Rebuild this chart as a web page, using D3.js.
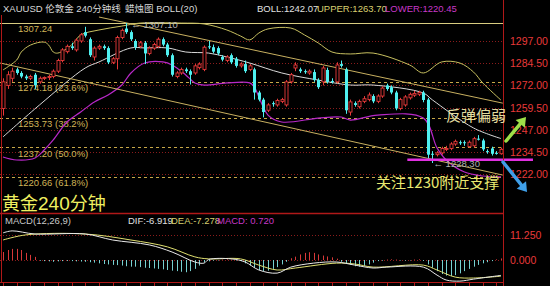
<!DOCTYPE html>
<html>
<head>
<meta charset="utf-8">
<script src="https://cdn.jsdelivr.net/npm/d3@7"></script>
<style>
  html, body { margin: 0; padding: 0; background: #000; }
  svg { display: block; }
  text { font-family: "Liberation Sans", "Noto Sans CJK SC", sans-serif; }
  .cjk { font-family: "Noto Sans CJK SC", "Liberation Sans", sans-serif; }
</style>
</head>
<body>
<svg id="chart" width="550" height="286"></svg>
<script>
// ── Data (XAUUSD 240 min candles) ───────────────────────────────────────────
const opens = [
  1259,1272,1276,1281,1279,1277,1276,1278,1274,1276, 1276.5,1277,1280,1286,1291,1294,1292,1297,1302,1298,
  1288,1293,1294,1293,1285,1287,1299,1304,1302,1297, 1294,1296,1290,1293,1294,1298,1295,1289,1277,1279,
  1281,1280,1279,1282,1281,1294,1293.5,1293,1288,1286, 1289,1287,1283,1284,1281,1281,1268,1264,1258,1262,
  1261,1263,1261,1274,1281.8,1281,1280,1279,1279.5,1275, 1274,1280.7,1274.5,1274,1284,1281,1257,1262,1260,1263,
  1264,1266,1263,1266,1272,1271,1268,1259,1261,1265, 1266.5,1267,1268,1264,1233.5,1233,1234,1236,1236.5,1239,
  1240,1240,1237.5,1238,1242,1241,1235,1236.5,1234,1233.5
];
const highs = [
  1276,1280,1282,1282,1280,1278,1278,1279,1277,1277, 1278,1281,1287,1293,1295,1296,1298.5,1301.5,1305,1299,
  1294,1295,1295,1294,1288,1300,1304,1307.1,1303,1298, 1297,1297,1294,1296,1299,1299,1296,1290,1280,1282,
  1282,1281,1284,1285,1294.5,1297,1295,1294,1289,1289, 1290,1288,1285,1286,1284,1282,1269,1265,1262,1263,
  1264.5,1265,1275,1279,1285,1282,1281,1281,1281,1276, 1283,1282,1276,1285,1286,1282,1264,1263,1264,1266,
  1268,1267,1267,1271.5,1273,1272,1269,1265,1266.5,1268, 1269,1269,1269,1265,1235,1235,1237.5,1238,1240,1241.5,
  1241,1241,1241,1243,1244,1242,1236,1237.5,1235,1237
];
const lows = [
  1255,1270,1274,1278,1276,1275,1275,1270,1273,1275, 1275,1276,1279,1285,1290,1292,1291,1296,1299,1288,
  1286,1292,1292,1284,1284,1281,1298,1301,1297,1292, 1293,1284,1289,1292,1293,1294,1288,1277,1276,1278,
  1279,1272.5,1278,1281,1280,1292.5,1290,1289,1285.5,1285, 1284,1282,1282,1279,1280,1264,1263,1254,1257,1260,
  1260,1262,1260,1273,1280,1279,1278.5,1278,1274,1270, 1272,1273,1273,1273,1282,1256,1255,1260,1259,1262,
  1263,1262,1262,1265,1269,1267,1258,1258,1260,1264, 1265.5,1266,1262.5,1231,1228.3,1232,1233,1235,1235.5,1238,
  1238.5,1238,1237,1237,1241,1235,1233.5,1232.5,1233,1233
];
const closes = [
  1274,1278,1280,1279,1277,1276,1277,1272,1276,1276.5, 1277,1280,1286,1292,1294,1293,1297.5,1300.5,1300,1289,
  1293,1294,1293,1285,1287,1299,1303,1302,1298,1293.5, 1296,1290,1293,1295,1298,1295,1289,1278,1279,1281,
  1280,1278,1283,1284,1293.5,1293.5,1291,1290,1286.5,1288, 1285,1283,1284,1280,1283,1268,1264,1257,1261,1261.5,
  1263.5,1264,1274,1278,1283.5,1280,1279.5,1280,1275,1271, 1281.8,1274,1274,1283.5,1283,1258,1262.7,1261,1263,1264.5,
  1266.6,1263,1266,1270.5,1270,1268,1259,1264,1265.5,1267, 1267.5,1268,1263.8,1233,1233,1234,1236.5,1236.5,1239,1240.5,
  1239.5,1239.5,1240,1242,1241.5,1236,1234.5,1233.5,1233.5,1236
];

// Bollinger(20) read at candle index: [index, price]
const upperBand = [
  [0,1280.7],[3,1286.3],[4,1290.8],[6,1294.7],[9,1296.4],[10,1294.7],[11,1290.8],[12,1290.2],
  [15,1294.7],[17,1300.4],[21,1303.2],[26,1305.4],[30,1307.1],[39,1307.1],[44,1306.6],[49,1303.2],
  [52,1299.8],[54,1297.6],[56,1301.5],[58,1303.8],[63,1304.3],[66,1300.4],[69,1295.9],[72,1290.8],
  [76,1289.7],[81,1290.2],[89,1283.5],[92,1279.0],[96,1285.2],[100,1284.6],[103,1279.5],[105,1273.4],[109,1263.7]
];
const midBand = [
  [0,1243.0],[8,1261.0],[18,1281.8],[21,1285.2],[28,1293.1],[31,1293.1],[36,1293.1],[40,1290.8],
  [45,1290.2],[49,1288.0],[54,1284.6],[61,1279.0],[69,1275.0],[76,1272.2],[81,1272.2],[92,1267.7],
  [94,1263.8],[103,1248.0],[109,1242.07]
];
const lowerBand = [
  [0,1231.7],[3,1230.0],[7,1231.1],[9,1235.6],[11,1241.3],[14,1251.4],[17,1257.0],[20,1262.7],
  [23,1266.6],[26,1272.2],[28,1279.0],[31,1284.6],[35,1285.2],[37,1283.5],[40,1277.9],[42,1273.4],
  [44,1272.2],[49,1273.4],[54,1273.4],[55,1271.1],[58,1255.3],[61,1251.4],[69,1253.6],[74,1254.2],
  [76,1252.5],[82,1255.3],[92,1253.6],[95,1236.8],[97,1230.0],[101,1223.2],[105,1221.0],[109,1220.45]
];

// Hand-drawn trend lines and support line: [index, price]
const upperTrend = [[21,1310.5],[109.4,1262.0]];
const lowerTrend = [[-0.6,1284.6],[109.4,1221.5]];
const supportLine = [[88.5,1230.2],[116,1230.2]];

const fibLevels = [1307.24, 1274.18, 1253.73, 1237.20, 1220.66];
const fibPct    = ['', '23.6%', '38.2%', '50.0%', '61.8%'];
const priceTicks = [1297, 1284.5, 1272, 1259.5, 1247, 1234.5, 1222];

// MACD(12,26,9) read at candle index: [index, value]
const difLine = [
  [0,12.2],[2,13.1],[7,11.7],[18,11.7],[24,9.0],[32,6.8],[37,3.6],[42,-0.9],[44,-1.4],[45,0.2],
  [50,0.5],[53,-0.9],[56,-4.5],[60,-5.9],[63,-3.2],[68,-1.4],[73,-0.9],[77,-2.3],[81,-3.6],[84,-3.2],
  [92,-3.2],[95,-6.8],[97,-9.0],[100,-9.5],[103,-8.6],[109,-6.919]
];
const deaLine = [
  [0,9.0],[5,11.3],[18,11.7],[28,9.0],[36,5.9],[42,1.4],[45,0.5],[52,0.5],[56,-2.3],[60,-4.5],
  [64,-3.6],[73,-1.4],[77,-1.8],[81,-3.2],[92,-2.3],[95,-4.5],[99,-7.7],[103,-8.1],[109,-7.278]
];
const macdHist = [
  3.6,4.5,5.0,5.0,4.5,3.2,2.3,1.4,
  -0.3,-0.5,-0.6,-0.8,-0.6,-0.5,-0.4,-0.5,-0.6,-0.7,-0.8,-1.0,
  -1.2,-1.5,-1.8,-2.0,-2.2,-2.3,-2.5,-2.8,-3.0,-3.0,-3.2,-3.5,-3.6,-3.8,-4.0,-4.2,-4.5,-4.8,-5.0,-5.3,-5.5,-5.0,-4.0,-2.5,
  -1.0,-0.6,-0.3,-0.2,0.2,0.3,0.2,-0.2,-0.5,
  -1.5,-2.5,-3.5,-4.5,-5.0,-4.8,-4.0,-3.2,-2.0,-0.8,
  0.8,1.5,2.5,3.2,3.5,3.2,2.5,2.0,1.6,1.2,0.6,
  -0.8,-1.5,-2.2,-2.8,-3.0,-2.6,-2.0,-1.2,
  -0.5,-0.3,0.2,0.3,0.2,-0.2,-0.3,-0.2,0.2,0.3,-0.4,
  -2.0,-3.5,-5.0,-6.3,-7.0,-7.2,-6.8,-6.0,-5.0,-4.0,-3.0,-2.2,-1.5,-1.0,-0.5,0.3,0.7
];
const macdTicks = [11.25, 0];

// ── Colours ─────────────────────────────────────────────────────────────────
const RED = '#e83a3a', FRAME = '#b01818', CYAN = '#4ff0f0';
const FIB = '#c8a848', UPPER_C = '#c8c060', MID_C = '#d8d8d8', LOWER_C = '#b828c8';

// ── Scales ──────────────────────────────────────────────────────────────────
const AXIS_X = 503;
const N = closes.length;
const x  = d3.scaleLinear().domain([0, N - 1]).range([3, 501]);
const y  = d3.scaleLinear().domain([1297, 1222]).range([41, 174.2]);
const ym = d3.scaleLinear().domain([0, 11.25]).range([260, 235]);

const svg = d3.select('#chart');
svg.append('rect').attr('width', 550).attr('height', 286).attr('fill', '#000');

const defs = svg.append('defs');
defs.append('clipPath').attr('id', 'main-clip')
  .append('rect').attr('x', 0).attr('y', 15).attr('width', AXIS_X).attr('height', 198);
defs.append('clipPath').attr('id', 'macd-clip')
  .append('rect').attr('x', 0).attr('y', 214).attr('width', AXIS_X).attr('height', 68);

const main = svg.append('g').attr('clip-path', 'url(#main-clip)');

// ── Grid (red dotted) ─────────────────────────────────────────────────────────
main.selectAll('line.grid').data(priceTicks).join('line')
  .attr('class', 'grid')
  .attr('x1', 0).attr('x2', AXIS_X)
  .attr('y1', d => Math.round(y(d)) + 0.5).attr('y2', d => Math.round(y(d)) + 0.5)
  .attr('stroke', '#8a1c1c').attr('stroke-dasharray', '1,2');

// ── Fibonacci levels ─────────────────────────────────────────────────────────
main.selectAll('line.fib').data(fibLevels).join('line')
  .attr('class', 'fib')
  .attr('x1', 0).attr('x2', AXIS_X)
  .attr('y1', d => Math.round(y(d)) + 0.5).attr('y2', d => Math.round(y(d)) + 0.5)
  .attr('stroke', (d, i) => i === 0 ? '#d8cc80' : FIB)
  .attr('stroke-dasharray', (d, i) => i === 0 ? null : '3,3');

main.selectAll('text.fib').data(fibLevels).join('text')
  .attr('class', 'fib')
  .attr('x', 18).attr('y', d => y(d) + 9.5)
  .attr('font-size', 9.5).attr('fill', '#d0b458')
  .text((d, i) => fibPct[i] ? `${d.toFixed(2)} (${fibPct[i]})` : d.toFixed(2));

// ── Bollinger lines & trend lines ───────────────────────────────────────────
const line = d3.line().x(d => x(d[0])).y(d => y(d[1])).curve(d3.curveCatmullRom.alpha(0.5));
const straight = d3.line().x(d => x(d[0])).y(d => y(d[1]));

main.append('path').datum(upperBand).attr('d', line)
  .attr('fill', 'none').attr('stroke', UPPER_C).attr('stroke-width', 1);
main.append('path').datum(midBand).attr('d', line)
  .attr('fill', 'none').attr('stroke', MID_C).attr('stroke-width', 1);
main.append('path').datum(lowerBand).attr('d', line)
  .attr('fill', 'none').attr('stroke', LOWER_C).attr('stroke-width', 1.2);

main.append('path').datum(upperTrend).attr('d', straight)
  .attr('fill', 'none').attr('stroke', '#c8b060').attr('stroke-width', 1);
main.append('path').datum(lowerTrend).attr('d', straight)
  .attr('fill', 'none').attr('stroke', '#c8b060').attr('stroke-width', 1);

// ── Candles ─────────────────────────────────────────────────────────────────
const candles = d3.range(N).map(i => ({ i, o: opens[i], h: highs[i], l: lows[i], c: closes[i] }));
const cg = main.append('g');
const cx = d => Math.round(x(d.i));

cg.selectAll('line.wick').data(candles).join('line')
  .attr('class', 'wick')
  .attr('x1', d => cx(d) + 0.5).attr('x2', d => cx(d) + 0.5)
  .attr('y1', d => y(d.h)).attr('y2', d => y(d.l))
  .attr('stroke', d => d.c >= d.o ? RED : CYAN);

cg.selectAll('rect.body').data(candles).join('rect')
  .attr('class', 'body')
  .attr('x', d => cx(d) - 1)
  .attr('width', 3)
  .attr('y', d => y(Math.max(d.o, d.c)))
  .attr('height', d => Math.max(1, Math.abs(y(d.o) - y(d.c))))
  .attr('fill', d => d.c >= d.o ? '#000' : CYAN)
  .attr('stroke', d => d.c >= d.o ? RED : 'none')
  .attr('stroke-width', 0.9);

// high / low markers
main.append('text').attr('x', x(27) + 5).attr('y', y(1307.1) + 5)
  .attr('font-size', 9.5).attr('fill', '#b8b8b8').text('\u2190 1307.10');
main.append('text').attr('x', x(94) + 1).attr('y', y(1228.3) + 4)
  .attr('font-size', 9.5).attr('fill', '#b0b0b0').text('\u2190 1228.30');

// support line (magenta), reaches over the axis
svg.append('path').datum(supportLine).attr('d', straight)
  .attr('stroke', '#e030e0').attr('stroke-width', 2.5);

// ── Frame ───────────────────────────────────────────────────────────────────
svg.append('line').attr('x1', AXIS_X + 0.5).attr('x2', AXIS_X + 0.5).attr('y1', 0).attr('y2', 286)
  .attr('stroke', FRAME);
svg.append('line').attr('x1', 1.5).attr('x2', 1.5).attr('y1', 15).attr('y2', 283)
  .attr('stroke', FRAME);
svg.append('line').attr('x1', 0).attr('x2', AXIS_X).attr('y1', 213.5).attr('y2', 213.5)
  .attr('stroke', FRAME).attr('stroke-width', 1.5);

// ── Right price axis ────────────────────────────────────────────────────────
svg.selectAll('text.ptick').data(priceTicks).join('text')
  .attr('class', 'ptick')
  .attr('x', 510).attr('y', d => y(d) + 4)
  .attr('font-size', 10.5).attr('fill', RED)
  .text(d => d.toFixed(2));

// ── Title row ───────────────────────────────────────────────────────────────
const head = svg.append('text').attr('y', 12).attr('font-size', 9.5).attr('fill', '#d8d8d8');
head.append('tspan').attr('x', 3).text('XAUUSD 伦敦金 240分钟线');
head.append('tspan').attr('x', 125).text('蜡烛图 BOLL(20)');
const boll = svg.append('text').attr('y', 12).attr('font-size', 9.5);
boll.append('tspan').attr('x', 257).attr('fill', '#e0e0e0').text('BOLL:1242.07');
boll.append('tspan').attr('x', 317).attr('fill', '#d8d070').text('UPPER:1263.70');
boll.append('tspan').attr('x', 385).attr('fill', '#c838c8').text('LOWER:1220.45');

// ── Annotations ─────────────────────────────────────────────────────────────
svg.append('text').attr('class', 'cjk').attr('x', 446).attr('y', 121)
  .attr('font-size', 15).attr('fill', '#e2dca0').text('反弹偏弱');
svg.append('text').attr('class', 'cjk').attr('x', 376).attr('y', 188)
  .attr('font-size', 15).attr('fill', '#e8e870').text('关注1230附近支撑');

const title = svg.append('text').attr('class', 'cjk').attr('x', 2).attr('y', 210)
  .attr('font-size', 18).attr('fill', '#f0f060');
title.append('tspan').text('黄金');
title.append('tspan').attr('font-family', 'Liberation Sans').attr('font-size', 19).text('240');
title.append('tspan').text('分钟');

// green arrow (up-right) and blue arrow (down-right)
function arrow(x1, y1, x2, y2, color, w) {
  const a = Math.atan2(y2 - y1, x2 - x1), hl = 9, hw = 6;
  const bx = x2 - hl * Math.cos(a), by = y2 - hl * Math.sin(a);
  svg.append('line').attr('x1', x1).attr('y1', y1).attr('x2', bx).attr('y2', by)
    .attr('stroke', color).attr('stroke-width', w).attr('stroke-linecap', 'round');
  svg.append('path')
    .attr('d', `M${x2},${y2}L${bx + hw * Math.sin(a)},${by - hw * Math.cos(a)}L${bx - hw * Math.sin(a)},${by + hw * Math.cos(a)}Z`)
    .attr('fill', color);
}
arrow(506, 141, 526, 117, '#9ee048', 3.5);
arrow(503, 162, 527, 192, '#3f9fe8', 3.5);

// ── MACD panel ──────────────────────────────────────────────────────────────
const macd = svg.append('g').attr('clip-path', 'url(#macd-clip)');
macd.selectAll('line.mgrid').data(macdTicks).join('line')
  .attr('class', 'mgrid')
  .attr('x1', 0).attr('x2', AXIS_X)
  .attr('y1', d => Math.round(ym(d)) + 0.5).attr('y2', d => Math.round(ym(d)) + 0.5)
  .attr('stroke', '#8a1c1c').attr('stroke-dasharray', '1,2');

macd.selectAll('line.hist').data(macdHist).join('line')
  .attr('class', 'hist')
  .attr('x1', (d, i) => Math.round(x(i)) + 0.5).attr('x2', (d, i) => Math.round(x(i)) + 0.5)
  .attr('y1', ym(0)).attr('y2', d => ym(d))
  .attr('stroke', d => d >= 0 ? '#d83838' : '#78d0d0');

const mline = d3.line().x(d => x(d[0])).y(d => ym(d[1])).curve(d3.curveCatmullRom.alpha(0.5));
macd.append('path').datum(deaLine).attr('d', mline)
  .attr('fill', 'none').attr('stroke', '#e0e070').attr('stroke-width', 1);
macd.append('path').datum(difLine).attr('d', mline)
  .attr('fill', 'none').attr('stroke', '#e8e8e8').attr('stroke-width', 1);

svg.append('text').attr('x', 5).attr('y', 224).attr('font-size', 9.5).attr('fill', '#c8c8c8')
  .text('MACD(12,26,9)');
const ml = svg.append('text').attr('y', 224).attr('font-size', 9.5);
ml.append('tspan').attr('x', 128).attr('fill', '#e0e0e0').text('DIF:-6.919');
ml.append('tspan').attr('x', 171).attr('fill', '#d8d070').text('DEA:-7.278');
ml.append('tspan').attr('x', 217).attr('fill', '#c838c8').text('MACD: 0.720');

svg.selectAll('text.mtick').data(macdTicks).join('text')
  .attr('class', 'mtick')
  .attr('x', 510).attr('y', d => ym(d) + 4)
  .attr('font-size', 10.5).attr('fill', RED)
  .text(d => d.toFixed(3));

// bottom time ruler
svg.append('line').attr('x1', 0).attr('x2', AXIS_X).attr('y1', 282.5).attr('y2', 282.5)
  .attr('stroke', FRAME);
svg.selectAll('line.tick').data(d3.range(0, N, 3)).join('line')
  .attr('class', 'tick')
  .attr('x1', d => Math.round(x(d)) + 0.5).attr('x2', d => Math.round(x(d)) + 0.5)
  .attr('y1', 282.5).attr('y2', 286)
  .attr('stroke', FRAME);
</script>
</body>
</html>
